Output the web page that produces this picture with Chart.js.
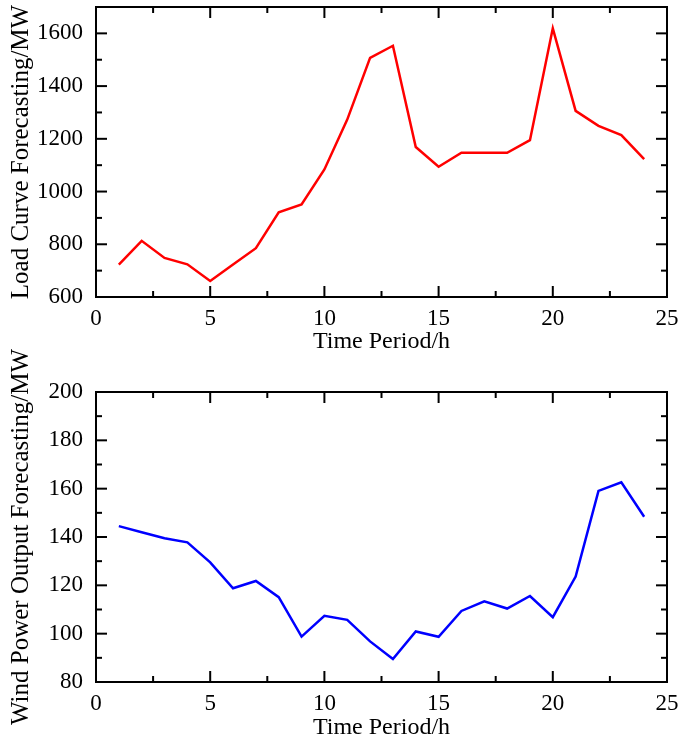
<!DOCTYPE html>
<html>
<head>
<meta charset="utf-8">
<script src="https://cdn.jsdelivr.net/npm/chart.js@4.4.1/dist/chart.umd.min.js"></script>
<style>
  body { margin: 0; background: #fff; }
  #wrap { position: relative; width: 682px; height: 744px; }
  .box { position: absolute; left: 0; width: 682px; }
  #loadBox { top: 0; height: 372px; }
  #windBox { top: 320px; height: 424px; }
</style>
</head>
<body>
<div id="wrap">
  <div class="box" id="loadBox"><canvas id="loadChart"></canvas></div>
  <div class="box" id="windBox"><canvas id="windChart"></canvas></div>
</div>
<script>
const hours = [1, 2, 3, 4, 5, 6, 7, 8, 9, 10, 11, 12, 13, 14, 15, 16, 17, 18, 19, 20, 21, 22, 23, 24];
const loadMW = [723, 813, 748, 724, 661, 723, 785, 921, 951, 1084, 1273, 1507, 1553, 1169, 1094, 1147, 1147, 1147, 1195, 1619, 1306, 1249, 1214, 1123];
const windMW = [144.5, 142, 139.5, 137.8, 129.5, 118.8, 121.8, 115.1, 98.8, 107.4, 105.7, 96.8, 89.5, 100.9, 98.7, 109.4, 113.4, 110.4, 115.6, 106.8, 123.6, 159.1, 162.6, 148.4];
const xTicks = [0, 5, 10, 15, 20, 25];
const loadTicks = [600, 800, 1000, 1200, 1400, 1600];
const windTicks = [80, 100, 120, 140, 160, 180, 200];

const SERIF = '"Liberation Serif", "Times New Roman", serif';

// box round the plot with ticks pointing inwards on all four sides
const frameTicks = {
  id: 'frameTicks',
  afterDraw(chart, args, opts) {
    const { ctx, chartArea: a, scales: { x, y } } = chart;
    ctx.save();
    ctx.strokeStyle = '#000';
    ctx.lineWidth = 2;
    ctx.strokeRect(a.left, a.top, a.right - a.left, a.bottom - a.top);

    const line = (x1, y1, x2, y2) => {
      ctx.beginPath();
      ctx.moveTo(x1, y1);
      ctx.lineTo(x2, y2);
      ctx.stroke();
    };
    const marks = (scale, step) => {
      const out = [];
      const majors = scale.ticks.map(t => t.value);
      majors.forEach(v => out.push({ v, len: 11 }));
      for (let v = scale.min + step; v < scale.max - 1e-9; v += step) {
        if (!majors.some(m => Math.abs(m - v) < 1e-9)) out.push({ v, len: 6 });
      }
      return out.filter(m => m.v > scale.min && m.v < scale.max);
    };

    marks(x, opts.xMinor).forEach(m => {
      const px = x.getPixelForValue(m.v);
      line(px, a.bottom, px, a.bottom - m.len);
      line(px, a.top, px, a.top + m.len);
    });
    marks(y, opts.yMinor).forEach(m => {
      const py = y.getPixelForValue(m.v);
      line(a.left, py, a.left + m.len, py);
      line(a.right, py, a.right - m.len, py);
    });
    ctx.restore();
  }
};

function makeChart(id, values, color, yMin, yMax, yTicks, yMinor, yTitle, padTop, xHeight, xTitlePad) {
  return new Chart(document.getElementById(id), {
    type: 'line',
    data: {
      datasets: [{
        data: hours.map((h, i) => ({ x: h, y: values[i] })),
        borderColor: color,
        borderWidth: 2.5,
        pointRadius: 0,
        tension: 0,
        fill: false
      }]
    },
    options: {
      responsive: true,
      maintainAspectRatio: false,
      animation: false,
      layout: { padding: { left: 0, right: 15, top: padTop, bottom: 0 } },
      plugins: {
        legend: { display: false },
        tooltip: { enabled: false },
        frameTicks: { xMinor: 2.5, yMinor: yMinor }
      },
      scales: {
        x: {
          type: 'linear',
          min: 0,
          max: 25,
          afterBuildTicks: s => { s.ticks = xTicks.map(v => ({ value: v })); },
          afterFit: s => { s.height = xHeight; s.paddingLeft = 0; s.paddingRight = 0; },
          grid: { display: false, drawTicks: false },
          border: { display: false },
          ticks: { color: '#000', font: { family: SERIF, size: 23 }, padding: 8, maxRotation: 0, autoSkip: false, callback: v => String(v) },
          title: { display: true, text: 'Time Period/h', color: '#000', font: { family: SERIF, size: 24, lineHeight: 1 }, padding: { top: 0, bottom: xTitlePad } }
        },
        y: {
          type: 'linear',
          min: yMin,
          max: yMax,
          afterBuildTicks: s => { s.ticks = yTicks.map(v => ({ value: v })); },
          afterFit: s => { s.width = 96; s.paddingTop = 0; s.paddingBottom = 0; },
          grid: { display: false, drawTicks: false },
          border: { display: false },
          ticks: { color: '#000', font: { family: SERIF, size: 23 }, padding: 13, autoSkip: false, callback: v => String(v) },
          title: { display: true, text: yTitle, color: '#000', font: { family: SERIF, size: 25, lineHeight: 1 }, padding: { top: 9, bottom: 0 } }
        }
      }
    },
    plugins: [frameTicks]
  });
}

makeChart('loadChart', loadMW, '#ff0000', 600, 1700, loadTicks, 100, 'Load Curve Forecasting/MW', 7, 75, 18);
makeChart('windChart', windMW, '#0000ff', 80, 200, windTicks, 10, 'Wind Power Output Forecasting/MW', 72, 62, 4);
</script>
</body>
</html>
